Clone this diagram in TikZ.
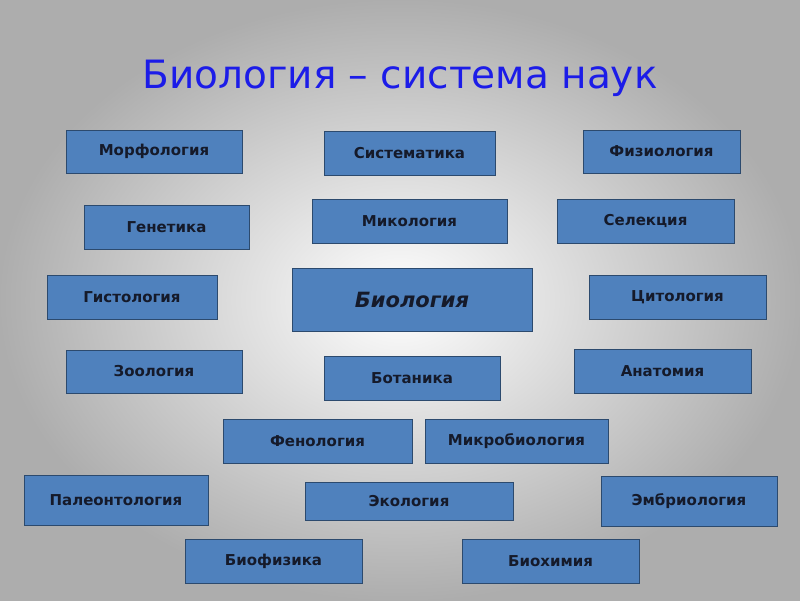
\documentclass[tikz,border=0pt]{standalone}
\usepackage{fontspec}
\setmainfont{DejaVu Sans}
\begin{document}
\begin{tikzpicture}[x=1pt,y=-1pt,
  box/.style={draw=boxline,line width=1pt,fill=boxfill,inner sep=0pt,
    font=\fontsize{15}{17}\selectfont\bfseries,text=boxtext}]
\definecolor{boxfill}{HTML}{4F81BD}
\definecolor{boxline}{HTML}{2C4A6E}
\definecolor{boxtext}{HTML}{151A2A}
\definecolor{titleblue}{HTML}{1C1CE8}
\useasboundingbox (0,0) rectangle (800,600);
\shade[inner color=white,outer color=black!32] (0,0) rectangle (800,600);
\node[font=\fontsize{39}{44}\selectfont,text=titleblue] (title) at (400,78) {Биология – система наук};
\newcommand{\bx}[6]{\node[box,minimum width=#4-#2,minimum height=#5-#3] (#1) at ({(#2+#4)/2},{(#3+#5)/2}) {#6};}
\bx{m}{66}{130}{242}{173}{Морфология}
\bx{s}{324}{131}{495}{175}{Систематика}
\bx{f}{583}{130}{740}{173}{Физиология}
\bx{g}{84}{205}{249}{249}{Генетика}
\bx{mi}{312}{199}{507}{243}{Микология}
\bx{se}{557}{199}{734}{243}{Селекция}
\bx{gi}{47}{275}{217}{319}{Гистология}
\node[box,minimum width=240,minimum height=63,font=\fontsize{21}{24}\selectfont\bfseries\itshape] (b) at (412,299.5) {Биология};
\bx{c}{589}{275}{766}{319}{Цитология}
\bx{z}{66}{350}{242}{393}{Зоология}
\bx{bo}{324}{356}{500}{400}{Ботаника}
\bx{a}{574}{349}{751}{393}{Анатомия}
\bx{fe}{223}{419}{412}{463}{Фенология}
\bx{mb}{425}{419}{608}{463}{Микробиология}
\bx{p}{24}{475}{208}{525}{Палеонтология}
\bx{e}{305}{482}{513}{520}{Экология}
\bx{em}{601}{476}{777}{526}{Эмбриология}
\bx{bf}{185}{539}{362}{583}{Биофизика}
\bx{bh}{462}{539}{639}{583}{Биохимия}
\end{tikzpicture}
\end{document}
